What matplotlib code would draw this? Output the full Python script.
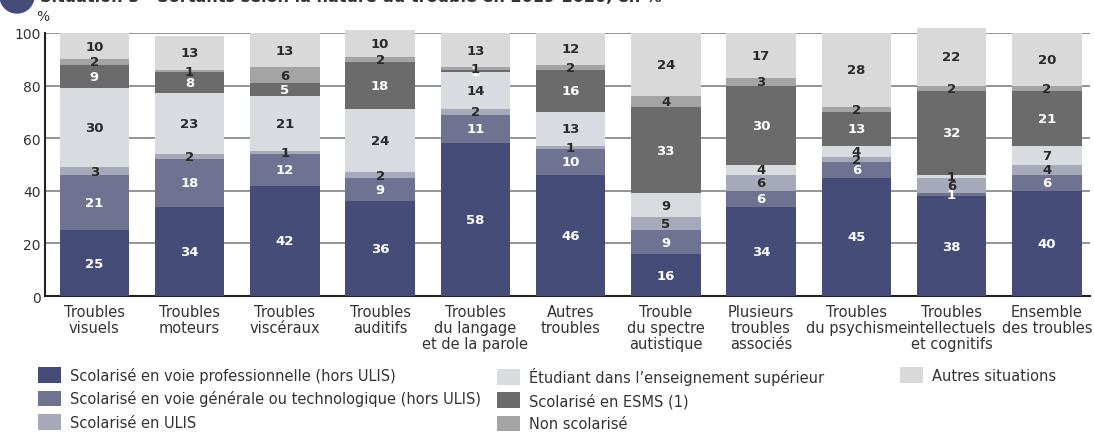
import matplotlib
matplotlib.use("Agg")
import matplotlib.pyplot as plt
from matplotlib.patches import Patch, Ellipse
import numpy as np

categories = ["Troubles\nvisuels", "Troubles\nmoteurs", "Troubles\nviscéraux", "Troubles\nauditifs",
              "Troubles\ndu langage\net de la parole", "Autres\ntroubles", "Trouble\ndu spectre\nautistique",
              "Plusieurs\ntroubles\nassociés", "Troubles\ndu psychisme", "Troubles\nintellectuels\net cognitifs",
              "Ensemble\ndes troubles"]

series_names = ["Scolarisé en voie professionnelle (hors ULIS)",
                "Scolarisé en voie générale ou technologique (hors ULIS)",
                "Scolarisé en ULIS",
                "Étudiant dans l’enseignement supérieur",
                "Scolarisé en ESMS (1)",
                "Non scolarisé",
                "Autres situations"]

voie_pro = [25, 34, 42, 36, 58, 46, 16, 34, 45, 38, 40]
voie_gen = [21, 18, 12, 9, 11, 10, 9, 6, 6, 1, 6]
ulis = [3, 2, 1, 2, 2, 1, 5, 6, 2, 6, 4]
etudiant = [30, 23, 21, 24, 14, 13, 9, 4, 4, 1, 7]
esms = [9, 8, 5, 18, 1, 16, 33, 30, 13, 32, 21]
non_scol = [2, 1, 6, 2, 1, 2, 4, 3, 2, 2, 2]
autres = [10, 13, 13, 10, 13, 12, 24, 17, 28, 22, 20]

yticks = [0, 20, 40, 60, 80, 100]

series = [voie_pro, voie_gen, ulis, etudiant, esms, non_scol, autres]
colors = ["#454c78", "#6f7291", "#a6a9b9", "#d8dbe0", "#6b6b6b", "#a4a4a4", "#d9d9d9"]
text_colors = ["white", "white", "#2a2a2a", "#2a2a2a", "white", "#2a2a2a", "#2a2a2a"]

plt.rcParams['font.family'] = ['DejaVu Sans']

W, H = 1094, 435
fig = plt.figure(figsize=(W / 100, H / 100), dpi=100)
ax = fig.add_axes([0.041, 0.317, 0.955, 0.605])

x = np.arange(len(categories))
width = 0.73
bottom = np.zeros(len(categories))
for vals, col, tcol in zip(series, colors, text_colors):
    vals = np.array(vals, dtype=float)
    ax.bar(x, vals, width, bottom=bottom, color=col, zorder=3, clip_on=False, linewidth=0)
    for xi, b, v in zip(x, bottom, vals):
        ax.text(xi, b + v / 2, f"{int(v)}", ha='center', va='center', color=tcol,
                fontsize=9.5, fontweight='bold', zorder=5, clip_on=False)
    bottom += vals

ax.set_ylim(0, 100)
ax.set_xlim(-0.52, len(categories) - 0.55)
ax.set_yticks(yticks)
ax.set_yticklabels([str(t) for t in yticks], fontsize=10, color='#333333')
ax.yaxis.grid(True, color='#8c8c8c', linewidth=1.3, zorder=0)
ax.set_xticks(x)
ax.set_xticklabels(categories, fontsize=10.5, color='#333333', linespacing=1.05)
ax.tick_params(axis='x', length=0, pad=6)
ax.tick_params(axis='y', length=0, pad=3)
for s in ['top', 'right']:
    ax.spines[s].set_visible(False)
ax.spines['left'].set_color('#222222')
ax.spines['bottom'].set_color('#222222')
ax.spines['left'].set_linewidth(1.5)
ax.spines['bottom'].set_linewidth(1.5)
ax.set_axisbelow(True)

fig.text(0.033, 0.945, "%", fontsize=10, color='#333333', ha='left', va='bottom')

# clipped title (only its lower part is visible, as in the reference)
fig.text(40 / W, 1 + 2 / H, "Situation 3 - Sortants selon la nature du trouble en 2019-2020, en %",
         fontsize=11.5, fontweight='bold', color='#333333', ha='left', va='center')
circ = Ellipse((17 / W, 1 + 3 / H), 34 / W, 34 / H, transform=fig.transFigure,
               color='#454c78', clip_on=False)
fig.patches.append(circ)

def make_legend(idx, xpix):
    hs = [Patch(facecolor=colors[i], edgecolor='none') for i in idx]
    ls = [series_names[i] for i in idx]
    lg = fig.legend(hs, ls, loc='upper left', bbox_to_anchor=(xpix / W, 1 - 368 / H),
                    ncol=1, frameon=False, fontsize=10.5, handlelength=1.6, handleheight=1.3,
                    labelspacing=0.5, handletextpad=0.6, borderaxespad=0, borderpad=0)
    for t in lg.get_texts():
        t.set_color('#333333')
    return lg

make_legend([0, 1, 2], 38)
make_legend([3, 4, 5], 497)
make_legend([6], 900)

fig.savefig("out.png", dpi=100)
